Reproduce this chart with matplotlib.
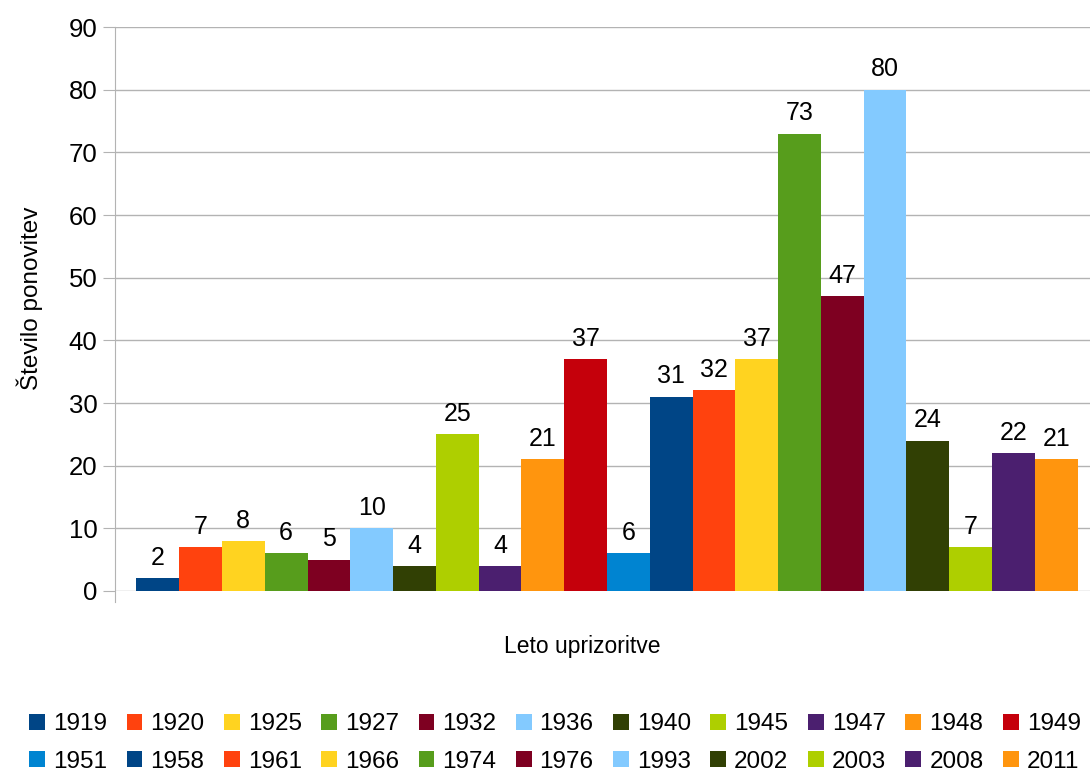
import matplotlib
matplotlib.use("Agg")
import matplotlib.pyplot as plt

plt.rcParams['font.family'] = ['Liberation Sans', 'DejaVu Sans']

# leta uprizoritev in število ponovitev
leta = ["1919", "1920", "1925", "1927", "1932", "1936", "1940", "1945", "1947", "1948", "1949",
        "1951", "1958", "1961", "1966", "1974", "1976", "1993", "2002", "2003", "2008", "2011"]
ponovitve = [2, 7, 8, 6, 5, 10, 4, 25, 4, 21, 37,
             6, 31, 32, 37, 73, 47, 80, 24, 7, 22, 21]

# privzete barve LibreOffice
barve = ["#004586", "#ff420e", "#ffd320", "#579d1c", "#7e0021", "#83caff",
         "#314004", "#aecf00", "#4b1f6f", "#ff950e", "#c5000b", "#0084d1"]

fig = plt.figure(figsize=(10.9, 7.71), dpi=100)
ax = fig.add_axes([115 / 1090, 1 - 591 / 771, 984 / 1090, 564 / 771])

handles = []
for i, (leto, n) in enumerate(zip(leta, ponovitve)):
    b = ax.bar(i, n, width=1.0, color=barve[i % len(barve)], label=leto, zorder=3)
    ax.bar_label(b, padding=6, fontsize=18)
    handles.append(b)

ax.set_xlim(-1, 22)
ax.set_ylim(0, 90)
ax.set_yticks(range(0, 91, 10))
ax.set_xticks([])
ax.grid(axis='y', color='#b3b3b3', linewidth=1, zorder=0)
for s in ['top', 'right', 'bottom']:
    ax.spines[s].set_visible(False)
ax.spines['left'].set_color('#b3b3b3')
ax.spines['left'].set_bounds(-1.75, 90)
ax.tick_params(axis='y', length=8.6, color='#b3b3b3', labelsize=18.5, pad=4)

fig.text(582 / 1090, 1 - 646 / 771, "Leto uprizoritve", ha='center', va='center', fontsize=16.5)
fig.text(30 / 1090, 1 - 298 / 771, "Število ponovitev", ha='center', va='center',
         rotation=90, fontsize=17.5)

# legenda v dveh vrsticah, razvrščena po vrsticah
order = [c + 11 * r for c in range(11) for r in range(2)]
fig.legend([handles[k] for k in order], [leta[k] for k in order], ncol=11,
           loc='center', bbox_to_anchor=(555 / 1090, 1 - 743 / 771),
           frameon=False, fontsize=17.5, handlelength=0.65, handleheight=0.65,
           handletextpad=0.33, columnspacing=0.8, labelspacing=0.62, borderpad=0)

fig.savefig("out.png", dpi=100)
